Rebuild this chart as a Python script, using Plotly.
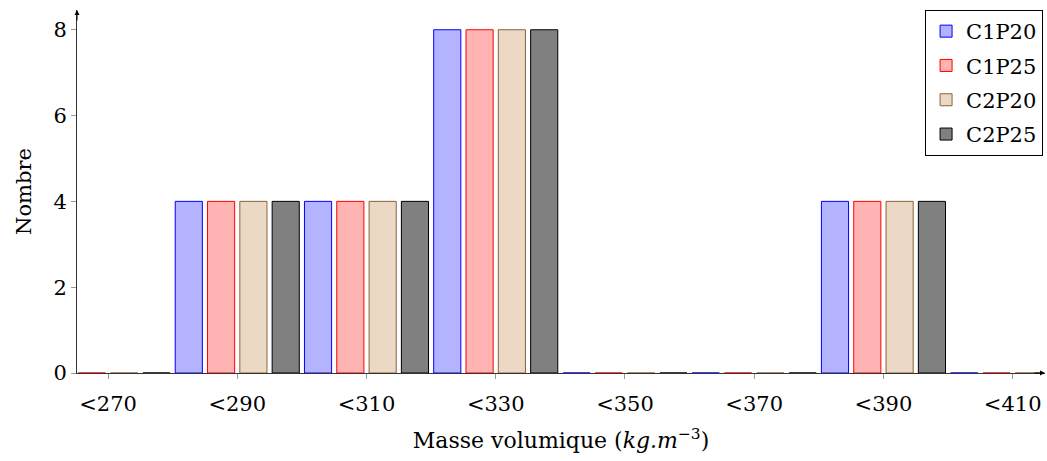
import plotly.graph_objects as go

categories = ["<270", "<290", "<310", "<330", "<350", "<370", "<390", "<410"]
series_names = ["C1P20", "C1P25", "C2P20", "C2P25"]
c1p20 = [0, 4, 4, 8, 0, 0, 4, 0]
c1p25 = [0, 4, 4, 8, 0, 0, 4, 0]
c2p20 = [0, 4, 4, 8, 0, 0, 4, 0]
c2p25 = [0, 4, 4, 8, 0, 0, 4, 0]
y_ticks = [0, 2, 4, 6, 8]

fills = ["#b3b3ff", "#ffb3b3", "#ebd9c6", "#808080"]
lines = ["#0000ff", "#ff0000", "#8c6239", "#000000"]

FONT = "DejaVu Serif"
FS = 21

fig = go.Figure()
for name, vals, fc, lc in zip(series_names, [c1p20, c1p25, c2p20, c2p25], fills, lines):
    fig.add_trace(go.Bar(
        x=categories, y=vals, name=name, legendgroup=name,
        marker=dict(color=fc, line=dict(color=lc, width=1)),
    ))

fig.update_layout(
    template="none",
    width=1047, height=461,
    margin=dict(l=77, r=2, t=10, b=88, autoexpand=False),
    paper_bgcolor="white", plot_bgcolor="white",
    barmode="group", bargap=0.0, bargroupgap=0.16,
    font=dict(family=FONT, size=FS, color="black"),
    showlegend=True,
    legend=dict(
        x=0.998, y=1.0, xanchor="right", yanchor="top",
        bordercolor="black", borderwidth=1, bgcolor="white",
        font=dict(family=FONT, size=FS),
        tracegroupgap=4, itemwidth=30,
    ),
    xaxis=dict(
        type="category", categoryorder="array", categoryarray=categories,
        range=[-0.24, 7.25], automargin=False,
        showline=True, linecolor="#333333", linewidth=1,
        ticks="outside", ticklen=5, tickcolor="#999999",
        ticklabelstandoff=7,
        showgrid=False, zeroline=False,
        title=dict(text="Masse volumique (<i>kg.m</i><sup>−3</sup>)", font=dict(family=FONT, size=22), standoff=17),
        tickfont=dict(family=FONT, size=FS),
    ),
    yaxis=dict(
        range=[0, 8.46], automargin=False,
        tickvals=y_ticks, ticktext=[str(v) for v in y_ticks],
        showline=True, linecolor="#333333", linewidth=1,
        ticks="outside", ticklen=5, tickcolor="#999999",
        showgrid=False, zeroline=False,
        title=dict(text="Nombre", font=dict(family=FONT, size=FS), standoff=16),
        tickfont=dict(family=FONT, size=FS),
    ),
)

# axis arrowheads
fig.add_annotation(x=1, y=0, xref="paper", yref="paper", ax=-12, ay=0, text="",
                   showarrow=True, arrowhead=2, arrowsize=1, arrowwidth=1, arrowcolor="black")
fig.add_annotation(x=0, y=1, xref="paper", yref="paper", ax=0, ay=12, text="",
                   showarrow=True, arrowhead=2, arrowsize=1, arrowwidth=1, arrowcolor="black")

fig.write_html("out.html", config={"displayModeBar": False},
               post_script="document.body.style.margin='0';document.body.style.padding='0';")
